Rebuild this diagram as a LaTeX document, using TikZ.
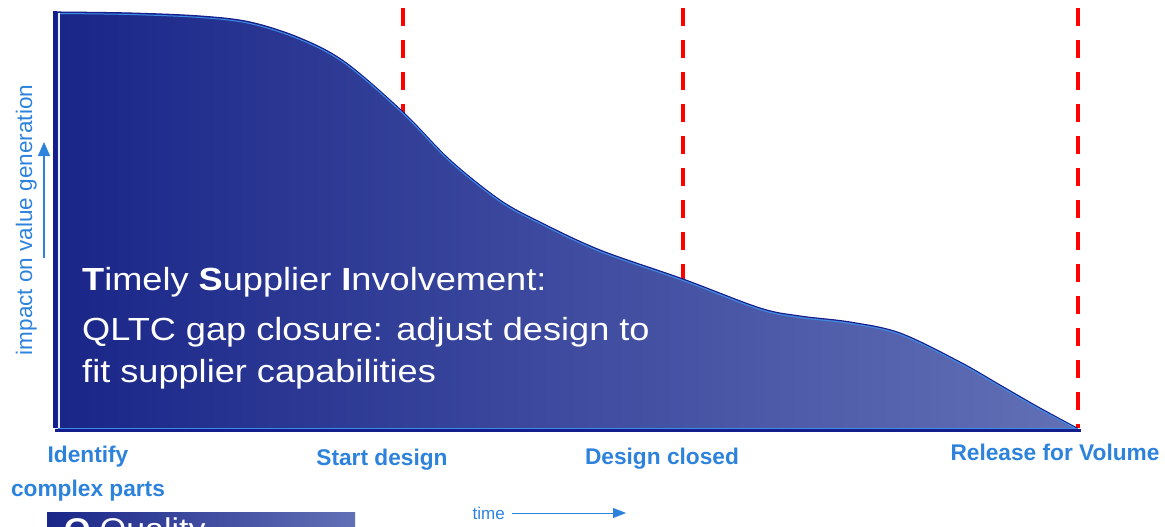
\documentclass[tikz,border=0pt]{standalone}
\usepackage{fontspec}
\setmainfont{Liberation Sans}
\newfontfamily\widefont[FakeStretch=1.13]{Liberation Sans}
\usetikzlibrary{arrows.meta}
\definecolor{darkfill}{RGB}{26,38,136}
\definecolor{lightfill}{RGB}{98,112,182}
\definecolor{edgeblue}{RGB}{20,30,140}
\definecolor{hiblue}{RGB}{60,140,230}
\definecolor{lblblue}{RGB}{45,131,220}
\tikzset{
  x=1pt, y=-1pt,
  milestone/.style={draw=red, line width=4pt, dash pattern=on 18pt off 14pt},
  lbl/.style={text=lblblue, font=\fontsize{22.7}{26}\selectfont\bfseries, inner sep=0pt},
  bigtxt/.style={text=white, font=\widefont\fontsize{32}{38}\selectfont, inner sep=0pt, anchor=base west},
  axisarrow/.style={draw=lblblue, line width=1.4pt, -{Triangle[length=14pt,width=12pt]}},
}
\begin{document}
\begin{tikzpicture}
\useasboundingbox (0,0) rectangle (1165,527);
\path[clip] (0,0) rectangle (1165,527);
% milestone lines (behind the area)
\coordinate (m1t) at (403,8);  \coordinate (m1b) at (403,428);
\coordinate (m2t) at (683,8);  \coordinate (m2b) at (683,428);
\coordinate (m3t) at (1078,8); \coordinate (m3b) at (1078,428);
\draw[milestone] (m1t) -- (m1b);
\draw[milestone] (m2t) -- (m2b);
\draw[milestone] (m3t) -- (m3b);
% area
\shade[left color=darkfill, right color=lightfill]
  (55,428) -- (55,12) -- plot[smooth, tension=0.55] coordinates {(55,12) (130,13) (200,16) (250,22) (300,38) (345,62) (403,112) (450,160) (500,200) (540,222) (600,250) (683,279) (760,308) (800,316) (850,322) (900,333) (960,362) (1000,385) (1040,408) (1077,428)} -- cycle;
\draw[edgeblue, line width=1.1pt]
  plot[smooth, tension=0.55] coordinates {(55,12) (130,13) (200,16) (250,22) (300,38) (345,62) (403,112) (450,160) (500,200) (540,222) (600,250) (683,279) (760,308) (800,316) (850,322) (900,333) (960,362) (1000,385) (1040,408) (1077,428)};
\draw[hiblue, line width=1pt]
  plot[smooth, tension=0.55] coordinates {(58,13.5) (130,14.5) (200,17.5) (250,23.5) (300,39.5) (345,63.5) (403,113.5) (450,161.5) (500,201.5) (540,223.5) (600,251.5) (683,280.5) (760,309.5) (800,317.5) (850,323.5) (900,334.5) (960,363.5) (1000,386.5) (1040,409.5) (1075,428)};
\fill[edgeblue] (53,11) rectangle (57,428);
\draw[white!85!hiblue, line width=1.6pt] (59,13) -- (59,428);
\fill[edgeblue] (55,429) rectangle (1081,432);
\draw[hiblue, line width=1pt] (58,428.5) -- (1078,428.5);
% texts
\node[bigtxt] (t1) at (82,290) {\textbf{T}imely \textbf{S}upplier \textbf{I}nvolvement:};
\node[bigtxt] (t2) at (82,340) {QLTC gap closure: adjust design to};
\node[bigtxt] (t3) at (82,382) {fit supplier capabilities};
% milestone labels
\node[lbl, anchor=base] (l1) at (88,462) {Identify};
\node[lbl, anchor=base] (l1b) at (88,496) {complex parts};
\node[lbl, anchor=base] (l2) at (382,465) {Start design};
\node[lbl, anchor=base] (l3) at (662,464) {Design closed};
\node[lbl, anchor=base] (l4) at (1055,460) {Release for Volume};
% y axis label
\node[text=lblblue, font=\fontsize{22.5}{25}\selectfont, rotate=90, anchor=base, inner sep=0pt] (ylab) at (32,220) {impact on value generation};
\coordinate (ya) at (44,258);
\coordinate (yb) at (44,142);
\draw[axisarrow] (ya) -- (yb);
% time
\node[text=lblblue, font=\fontsize{17}{20}\selectfont, anchor=base east, inner sep=0pt] (time) at (505,519) {time};
\coordinate (te) at (626,513);
\draw[axisarrow, line width=0.9pt, -{Triangle[length=13pt,width=10pt]}] ([xshift=7pt]time.east |- te) -- (te);
% Quality box
\shade[left color=darkfill, right color=lightfill] (47,512) rectangle (355,540);
\node[text=white, font=\widefont\fontsize{30}{36}\selectfont, anchor=base west, inner sep=0pt] (q) at (64,539) {\textbf{Q} Quality};
\end{tikzpicture}
\end{document}
